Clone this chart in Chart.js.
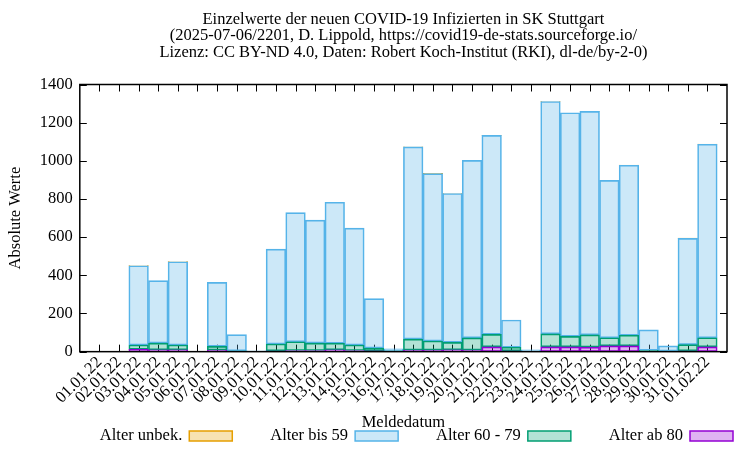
<!DOCTYPE html>
<html>
<head>
<meta charset="utf-8">
<script src="https://cdn.jsdelivr.net/npm/chart.js@4.4.1/dist/chart.umd.min.js"></script>
<style>
  html, body { margin: 0; padding: 0; background: #fff; }
  #wrap { width: 750px; height: 450px; }
</style>
</head>
<body>
<div id="wrap"><canvas id="chart"></canvas></div>
<script>
// Meldedatum
const dates = ['01.01.22','02.01.22','03.01.22','04.01.22','05.01.22','06.01.22','07.01.22','08.01.22',
  '09.01.22','10.01.22','11.01.22','12.01.22','13.01.22','14.01.22','15.01.22','16.01.22',
  '17.01.22','18.01.22','19.01.22','20.01.22','21.01.22','22.01.22','23.01.22','24.01.22',
  '25.01.22','26.01.22','27.01.22','28.01.22','29.01.22','30.01.22','31.01.22','01.02.22'];

// values per age group (stacked bottom to top)
const ab80   = [0,0,12,10,10,0,8,2, 0,5,6,6,10,6,4,1, 8,8,10,8,25,5,0,25, 25,24,30,30,2,1,5,25];
const alter6079 = [0,0,23,35,25,0,20,3, 1,35,46,39,34,29,15,3, 58,48,39,64,66,18,2,68, 55,64,43,56,5,2,32,48];
const bis59  = [0,0,415,327,436,0,335,84, 4,497,677,644,739,612,259,11, 1007,877,780,930,1042,143,8,1218, 1172,1171,825,891,107,27,557,1014];
const unbek  = [0,0,1,0,1,0,0,0, 0,0,0,0,0,0,0,0, 1,1,1,1,1,0,0,1, 0,1,0,1,0,0,1,1];

const yTicks = [0, 200, 400, 600, 800, 1000, 1200, 1400];

// one empty slot on each side, like the original
const labels = [''].concat(dates, ['']);
const pad = arr => [null].concat(arr, [null]);

const font = 'Liberation Serif';
const fsize = 16.5;

// inward ticks on all four sides + black frame
const frame = {
  id: 'frame',
  beforeDatasetsDraw(chart) {
    const { ctx, chartArea: a, scales: { x, y } } = chart;
    ctx.save();
    ctx.strokeStyle = '#000';
    ctx.lineWidth = 1;
    ctx.beginPath();
    yTicks.forEach(v => {
      const py = Math.round(y.getPixelForValue(v)) + 0.5;
      ctx.moveTo(a.left, py); ctx.lineTo(a.left + 7, py);
      ctx.moveTo(a.right, py); ctx.lineTo(a.right - 7, py);
    });
    labels.forEach((l, i) => {
      if (!l) return;
      const px = Math.round(x.getPixelForTick(i)) + 0.5;
      ctx.moveTo(px, a.bottom); ctx.lineTo(px, a.bottom - 7);
      ctx.moveTo(px, a.top); ctx.lineTo(px, a.top + 7);
    });
    ctx.stroke();
    ctx.restore();
  },
  afterDatasetsDraw(chart) {
    const { ctx, chartArea: a } = chart;
    ctx.save();
    ctx.strokeStyle = '#000';
    ctx.lineWidth = 1.5;
    ctx.strokeRect(a.left, a.top, a.right - a.left, a.bottom - a.top);
    ctx.restore();
  }
};

// gnuplot style key: text first, sample box on the right, one row
const keyRow = {
  id: 'keyRow',
  afterDraw(chart) {
    const { ctx, chartArea: a } = chart;
    const items = chart.data.datasets.slice().reverse();
    ctx.save();
    ctx.font = fsize + 'px "' + font + '"';
    ctx.textBaseline = 'middle';
    ctx.textAlign = 'left';
    const boxW = 43, boxH = 10, gapTxt = 7;
    const widths = items.map(d => ctx.measureText(d.label).width + gapTxt + boxW);
    const x0 = a.left + 20, x1 = a.right + 6;
    const gap = (x1 - x0 - widths.reduce((s, w) => s + w, 0)) / (items.length - 1);
    const yc = chart.height - 14;
    let x = x0;
    items.forEach((d, i) => {
      ctx.fillStyle = '#000';
      ctx.fillText(d.label, x, yc);
      const bx = x + widths[i] - boxW;
      ctx.fillStyle = d.backgroundColor;
      ctx.fillRect(bx, yc - boxH / 2, boxW, boxH);
      ctx.strokeStyle = d.borderColor;
      ctx.lineWidth = 1.5;
      ctx.strokeRect(bx, yc - boxH / 2, boxW, boxH);
      x += widths[i] + gap;
    });
    ctx.restore();
  }
};

const mk = (label, data, rgb) => ({
  label: label,
  data: pad(data),
  backgroundColor: 'rgba(' + rgb + ',0.3)',
  borderColor: 'rgb(' + rgb + ')',
  borderWidth: 1,
  borderSkipped: false,
  categoryPercentage: 1,
  barPercentage: 1
});

new Chart(document.getElementById('chart'), {
  type: 'bar',
  data: {
    labels: labels,
    datasets: [
      mk('Alter ab 80', ab80, '148,0,211'),
      mk('Alter 60 - 79', alter6079, '0,158,115'),
      mk('Alter bis 59', bis59, '86,180,233'),
      mk('Alter unbek.', unbek, '230,159,0')
    ]
  },
  options: {
    responsive: true,
    maintainAspectRatio: false,
    animation: false,
    layout: { padding: { left: 6, right: 23, top: 0, bottom: 19 } },
    plugins: {
      title: {
        display: true,
        fullSize: false,
        text: ['Einzelwerte der neuen COVID-19 Infizierten in SK Stuttgart',
               '(2025-07-06/2201, D. Lippold, https://covid19-de-stats.sourceforge.io/',
               'Lizenz: CC BY-ND 4.0, Daten: Robert Koch-Institut (RKI), dl-de/by-2-0)'],
        color: '#000',
        font: { family: font, size: fsize, weight: 'normal', lineHeight: 1.0 },
        padding: { top: 11, bottom: 24 }
      },
      legend: { display: false },
      tooltip: { enabled: false }
    },
    scales: {
      x: {
        stacked: true,
        offset: false,
        grid: { display: false, offset: false, drawTicks: false },
        border: { display: false },
        afterFit: s => { s.paddingLeft = 0; s.paddingRight = 0; },
        title: { display: true, text: 'Meldedatum', color: '#000', font: { family: font, size: fsize, lineHeight: 1.0 }, padding: { top: 6, bottom: 0 } },
        ticks: {
          autoSkip: false,
          maxRotation: 45,
          minRotation: 45,
          color: '#000',
          padding: 1,
          font: { family: font, size: fsize }
        }
      },
      y: {
        stacked: true,
        min: 0,
        max: 1400,
        afterBuildTicks: s => { s.ticks = yTicks.map(v => ({ value: v })); },
        grid: { display: false, drawTicks: false },
        border: { display: false },
        title: { display: true, text: 'Absolute Werte', color: '#000', font: { family: font, size: fsize }, padding: { top: 0, bottom: 7 } },
        ticks: { color: '#000', padding: 7, font: { family: font, size: fsize }, callback: v => String(v) }
      }
    }
  },
  plugins: [frame, keyRow]
});
</script>
</body>
</html>
